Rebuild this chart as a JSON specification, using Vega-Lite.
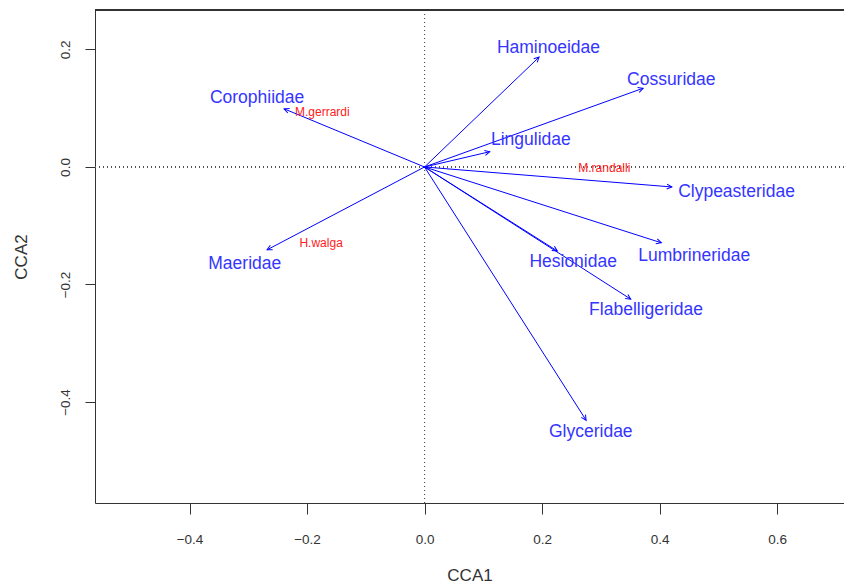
{
  "$schema": "https://vega.github.io/schema/vega-lite/v6.json",
  "width": 749,
  "height": 493,
  "autosize": "none",
  "padding": {"left": 95, "top": 10, "right": 0, "bottom": 85},
  "background": "white",
  "config": {
    "view": {"stroke": null},
    "font": "Liberation Sans",
    "axis": {
      "grid": false,
      "domainColor": "#333",
      "tickColor": "#333",
      "labelColor": "#333",
      "titleColor": "#333",
      "labelFont": "Liberation Sans",
      "titleFont": "Liberation Sans",
      "titleFontWeight": "normal",
      "labelFontSize": 13.5,
      "titleFontSize": 17,
      "domainWidth": 1,
      "tickWidth": 1
    }
  },
  "datasets": {
    "species": [
      {"name": "Haminoeidae", "x": 0.195, "y": 0.187, "lx": 0.211, "ly": 0.203},
      {"name": "Cossuridae", "x": 0.372, "y": 0.134, "lx": 0.42, "ly": 0.148},
      {"name": "Lingulidae", "x": 0.111, "y": 0.026, "lx": 0.181, "ly": 0.046},
      {"name": "Clypeasteridae", "x": 0.421, "y": -0.034, "lx": 0.531, "ly": -0.043},
      {"name": "Lumbrineridae", "x": 0.403, "y": -0.129, "lx": 0.459, "ly": -0.151},
      {"name": "Hesionidae", "x": 0.226, "y": -0.143, "lx": 0.253, "ly": -0.162},
      {"name": "Flabelligeridae", "x": 0.351, "y": -0.225, "lx": 0.377, "ly": -0.243},
      {"name": "Glyceridae", "x": 0.275, "y": -0.431, "lx": 0.283, "ly": -0.451},
      {"name": "Corophiidae", "x": -0.239, "y": 0.099, "lx": -0.285, "ly": 0.117},
      {"name": "Maeridae", "x": -0.268, "y": -0.141, "lx": -0.306, "ly": -0.165}
    ],
    "sites": [
      {"name": "M.gerrardi", "x": -0.174, "y": 0.094},
      {"name": "H.walga", "x": -0.176, "y": -0.129},
      {"name": "M.randalli", "x": 0.306, "y": -0.002}
    ]
  },
  "data": {"name": "species"},
  "layer": [
    {
      "mark": {"type": "rule", "strokeDash": [1, 3], "color": "#555", "strokeWidth": 1},
      "encoding": {
        "x": {
          "datum": 0,
          "type": "quantitative",
          "scale": {"domain": [-0.5609, 0.714], "nice": false, "zero": false},
          "axis": {
            "title": "CCA1",
            "values": [-0.4, -0.2, 0, 0.2, 0.4, 0.6],
            "format": ".1f",
            "tickSize": 11,
            "labelPadding": 18,
            "titlePadding": 22
          }
        }
      }
    },
    {
      "mark": {"type": "rule", "strokeDash": [1, 3], "color": "#555", "strokeWidth": 1},
      "encoding": {
        "y": {
          "datum": 0,
          "type": "quantitative",
          "scale": {"domain": [-0.5719, 0.2672], "nice": false, "zero": false},
          "axis": {
            "title": "CCA2",
            "values": [-0.4, -0.2, 0, 0.2],
            "format": ".1f",
            "tickSize": 10,
            "labelAngle": 270,
            "labelPadding": 13,
            "titlePadding": 28
          }
        }
      }
    },
    {
      "mark": {"type": "rule", "color": "#333", "strokeWidth": 1},
      "encoding": {
        "y": {"datum": 0.2672, "type": "quantitative"}
      }
    },
    {
      "mark": {"type": "rule", "color": "#0000ff", "strokeWidth": 1},
      "encoding": {
        "x": {"field": "x", "type": "quantitative"},
        "y": {"field": "y", "type": "quantitative"},
        "x2": {"datum": 0},
        "y2": {"datum": 0}
      }
    },
    {
      "transform": [{"calculate": "atan2(datum.x, datum.y) * 180 / PI", "as": "ang"}],
      "mark": {
        "type": "point",
        "shape": "M-0.5,1L0,0L0.5,1",
        "filled": false,
        "stroke": "#0000ff",
        "strokeWidth": 1,
        "size": 100,
        "opacity": 1
      },
      "encoding": {
        "x": {"field": "x", "type": "quantitative"},
        "y": {"field": "y", "type": "quantitative"},
        "angle": {"field": "ang", "type": "quantitative", "scale": null}
      }
    },
    {
      "mark": {"type": "text", "color": "#3535ff", "fontSize": 17.5, "font": "Liberation Sans", "align": "center", "baseline": "middle"},
      "encoding": {
        "x": {"field": "lx", "type": "quantitative"},
        "y": {"field": "ly", "type": "quantitative"},
        "text": {"field": "name"}
      }
    },
    {
      "data": {"name": "sites"},
      "mark": {"type": "text", "color": "#ff2020", "fontSize": 12, "font": "Liberation Sans", "align": "center", "baseline": "middle"},
      "encoding": {
        "x": {"field": "x", "type": "quantitative"},
        "y": {"field": "y", "type": "quantitative"},
        "text": {"field": "name"}
      }
    }
  ]
}
